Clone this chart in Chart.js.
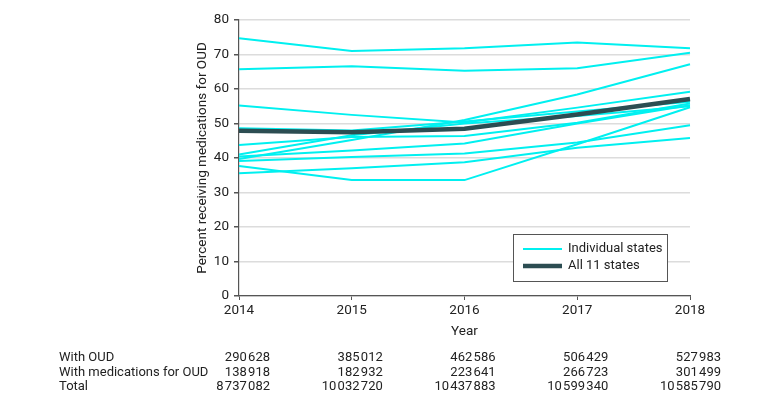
<!DOCTYPE html>
<html>
<head>
<meta charset="utf-8">
<script src="https://cdn.jsdelivr.net/npm/chart.js@4/dist/chart.umd.min.js"></script>
<style>
  html, body { margin: 0; padding: 0; background: #fff; }
  #wrap { width: 780px; height: 405px; }
</style>
</head>
<body>
<div id="wrap"><canvas id="graficoOud"></canvas></div>
<script>
const years = ["2014", "2015", "2016", "2017", "2018"];

// individual states, percent receiving medications for OUD
const stateA = [74.7, 71.0, 71.8, 73.5, 71.8];
const stateB = [65.7, 66.6, 65.3, 66.0, 70.5];
const stateC = [55.2, 52.5, 50.3, 54.6, 59.2];
const stateD = [48.6, 48.0, 50.6, 53.5, 56.3];
const stateE = [43.8, 46.1, 46.4, 50.2, 55.8];
const stateF = [40.4, 42.2, 44.2, 50.0, 55.3];
const stateG = [39.7, 45.2, 51.0, 58.4, 67.2];
const stateH = [39.1, 40.3, 41.3, 44.5, 49.5];
const stateI = [37.7, 33.6, 33.6, 44.0, 54.7];
const stateJ = [35.6, 37.0, 38.8, 43.0, 45.8];
const stateK = [41.0, 46.6, 50.0, 52.2, 55.0];
const allStates = [47.9, 47.5, 48.5, 52.6, 57.1];

const yMin = 0;
const yMax = 80;
const yStep = 10;

const legendLabels = ["Individual states", "All 11 states"];
const tableLabels = ["With OUD", "With medications for OUD", "Total"];
const withOud = [290628, 385012, 462586, 506429, 527983];
const withMeds = [138918, 182932, 223641, 266723, 301499];
const totals = [8737082, 10032720, 10437883, 10599340, 10585790];

const cian = "#00f0f0";
const oscuro = "#2c4d52";
const fuente = "Roboto, 'Open Sans', sans-serif";

const estados = [stateA, stateB, stateC, stateD, stateE, stateF, stateG, stateH, stateI, stateJ, stateK];

const datasets = [
  {
    label: legendLabels[1],
    data: allStates,
    borderColor: oscuro,
    borderWidth: 4.5,
    pointRadius: 0,
    tension: 0,
  },
];
estados.forEach((serie) => {
  datasets.push({
    label: legendLabels[0],
    data: serie,
    borderColor: cian,
    borderWidth: 2,
    pointRadius: 0,
    tension: 0,
  });
});

function conEspacios(n) {
  return n.toString().replace(/\B(?=(\d{3})+(?!\d))/g, "\u200A");
}

const extras = {
  id: "extras",
  afterDraw(chart) {
    const c = chart.ctx;
    const area = chart.chartArea;
    const x = chart.scales.x;

    // legend box
    const bx = area.right - 177, by = area.bottom - 62, bw = 154, bh = 47;
    c.save();
    c.fillStyle = "#fff";
    c.fillRect(bx, by, bw, bh);
    c.strokeStyle = "#555";
    c.lineWidth = 1;
    c.strokeRect(bx + 0.5, by + 0.5, bw, bh);
    const muestras = [
      { color: cian, w: 2 },
      { color: oscuro, w: 4.5 },
    ];
    c.font = "13px " + fuente;
    c.textBaseline = "middle";
    c.textAlign = "left";
    muestras.forEach((m, i) => {
      const yy = by + 15 + i * 17;
      c.strokeStyle = m.color;
      c.lineWidth = m.w;
      c.beginPath();
      c.moveTo(bx + 10, yy);
      c.lineTo(bx + 49, yy);
      c.stroke();
      c.fillStyle = "#222";
      c.fillText(legendLabels[i], bx + 55, yy);
    });

    // table under the axis
    const filas = [withOud, withMeds, totals];
    c.font = "13px " + fuente;
    filas.forEach((fila, r) => {
      const yy = 358 + r * 14.5;
      c.textAlign = "left";
      c.fillStyle = "#222";
      c.fillText(tableLabels[r], 59, yy);
      c.textAlign = "right";
      fila.forEach((v, i) => {
        c.fillText(conEspacios(v), x.getPixelForValue(i) + 31, yy);
      });
    });
    c.restore();
  },
};

const ctx = document.getElementById("graficoOud").getContext("2d");
const grafico = new Chart(ctx, {
  type: "line",
  data: { labels: years, datasets: datasets },
  options: {
    responsive: true,
    maintainAspectRatio: false,
    animation: false,
    layout: { padding: { left: 195, right: 90, top: 20, bottom: 65 } },
    plugins: {
      legend: { display: false },
      tooltip: { enabled: false },
    },
    scales: {
      x: {
        offset: false,
        afterFit: (s) => { s.height = 44; },
        grid: { drawOnChartArea: false, tickLength: 4, tickColor: "#555" },
        border: { color: "#555", width: 1.2 },
        ticks: { color: "#222", padding: 3, font: { family: fuente, size: 13.5 } },
        title: {
          display: true,
          text: "Year",
          color: "#222",
          padding: 0,
          font: { family: fuente, size: 13.5 },
        },
      },
      y: {
        min: yMin,
        max: yMax,
        afterFit: (s) => { s.width = 44; },
        ticks: { stepSize: yStep, color: "#222", padding: 5, font: { family: fuente, size: 13.5 } },
        grid: { color: "#dcdcdc", lineWidth: 1.5, tickLength: 5, tickColor: "#555" },
        border: { color: "#555", width: 1.2 },
        title: {
          display: true,
          text: "Percent receiving medications for OUD",
          color: "#222",
          padding: 0,
          font: { family: fuente, size: 13.5 },
        },
      },
    },
  },
  plugins: [extras],
});
</script>
</body>
</html>
